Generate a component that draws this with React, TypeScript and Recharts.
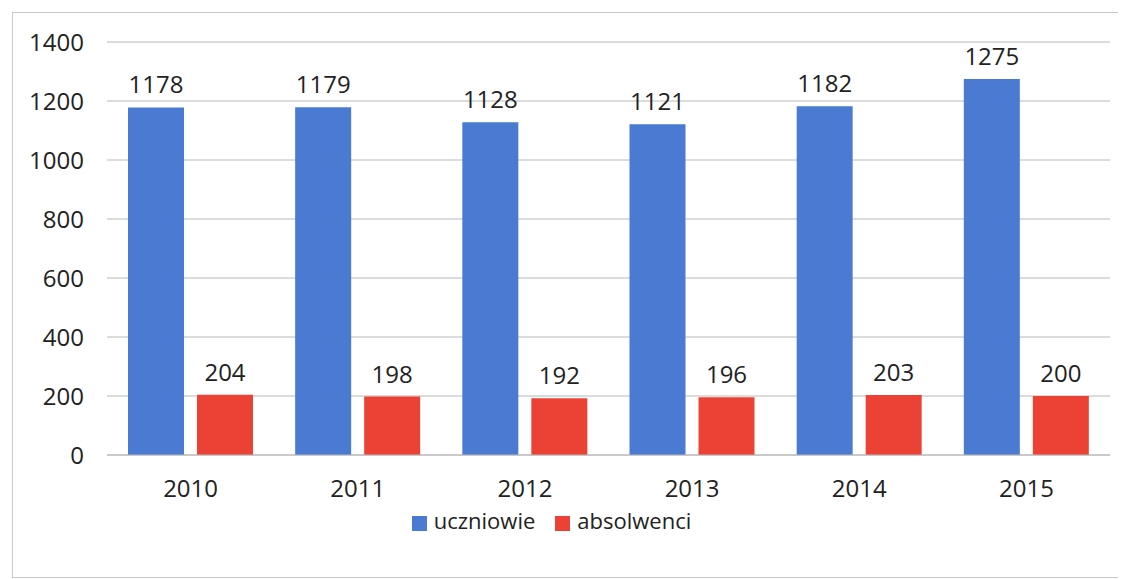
import { BarChart, Bar, XAxis, YAxis, CartesianGrid, Legend, LabelList } from "recharts";

const lata = ["2010", "2011", "2012", "2013", "2014", "2015"];
const uczniowie = [1178, 1179, 1128, 1121, 1182, 1275];
const absolwenci = [204, 198, 192, 196, 203, 200];
const osY = [0, 200, 400, 600, 800, 1000, 1200, 1400];
const kolejnosc = ["uczniowie", "absolwenci"];

const dane = lata.map((rok, i) => ({
  rok,
  uczniowie: uczniowie[i],
  absolwenci: absolwenci[i],
}));

const FONT = "'Open Sans', sans-serif";

export default function App() {
  return (
    <div
      style={{
        marginTop: 4,
        marginLeft: 4,
        width: 1106,
        height: 564,
        border: "1px solid #c8c8c8",
        fontFamily: FONT,
        background: "#fff",
      }}
    >
      <BarChart
        width={1106}
        height={564}
        data={dane}
        margin={{ top: 29, right: 9, left: 0, bottom: 42 }}
        barGap={13}
        barCategoryGap={21}
      >
        <CartesianGrid vertical={false} stroke="#b8b8b8" />
        <XAxis
          dataKey="rok"
          height={50}
          axisLine={{ stroke: "#b8b8b8" }}
          tickLine={false}
          tick={{ fill: "#222", fontSize: 24, fontFamily: FONT }}
          tickMargin={19}
        />
        <YAxis
          width={94}
          domain={[0, 1400]}
          ticks={osY}
          axisLine={false}
          tickLine={false}
          tick={{ fill: "#222", fontSize: 24, fontFamily: FONT }}
          tickMargin={17}
        />
        <Legend
          verticalAlign="bottom"
          align="center"
          iconType="square"
          iconSize={15}
          itemSorter={(item: any) => kolejnosc.indexOf(item.value)}
          wrapperStyle={{ fontSize: 22, fontFamily: FONT }}
          formatter={(v: string) => (
            <span style={{ color: "#222", marginLeft: 3, marginRight: 10 }}>{v}</span>
          )}
        />
        <Bar dataKey="uczniowie" name="uczniowie" fill="#4a7ad2" isAnimationActive={false}>
          <LabelList dataKey="uczniowie" position="top" offset={14} fill="#222" fontSize={24} fontFamily={FONT} />
        </Bar>
        <Bar dataKey="absolwenci" name="absolwenci" fill="#ec4236" isAnimationActive={false}>
          <LabelList dataKey="absolwenci" position="top" offset={14} fill="#222" fontSize={24} fontFamily={FONT} />
        </Bar>
      </BarChart>
    </div>
  );
}
